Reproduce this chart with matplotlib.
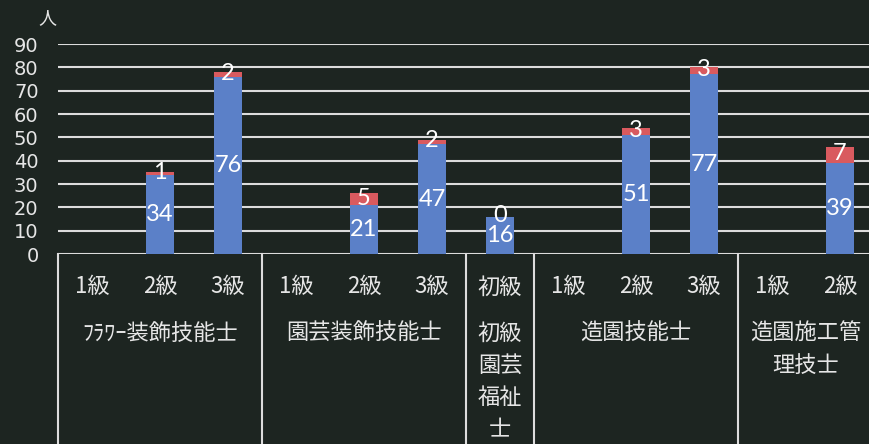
import matplotlib.pyplot as plt
import matplotlib.transforms as mtransforms

plt.rcParams['font.family'] = ['Noto Sans CJK JP', 'DejaVu Sans']

# one slot per grade, left to right
grades = ["1級", "2級", "3級", "1級", "2級", "3級", "初級", "1級", "2級", "3級", "1級", "2級"]
passed = [0, 34, 76, 0, 21, 47, 16, 0, 51, 77, 0, 39]
extra = [0, 1, 2, 0, 5, 2, 0, 0, 3, 3, 0, 7]
has_bar = [False, True, True, False, True, True, True, False, True, True, False, True]

groups = ["ﾌﾗﾜｰ装飾技能士", "園芸装飾技能士", "初級\n園芸\n福祉\n士", "造園技能士", "造園施工管\n理技士"]
group_slots = [(0, 2), (3, 5), (6, 6), (7, 9), (10, 11)]
yticks = [0, 10, 20, 30, 40, 50, 60, 70, 80, 90]

bg = "#1d2521"
line_col = "#dcdcdc"
txt_col = "#e6e6e6"
blue = "#5b80c8"
red = "#d95a5f"

fig = plt.figure(figsize=(8.69, 4.44), dpi=100, facecolor=bg)
ax = fig.add_axes([58 / 869, 1 - 254 / 444, (874 - 58) / 869, 210 / 444])
ax.set_facecolor(bg)

xs = list(range(len(grades)))
bx = [x for x, h in zip(xs, has_bar) if h]
bp = [p for p, h in zip(passed, has_bar) if h]
be = [e for e, h in zip(extra, has_bar) if h]
ax.bar(bx, bp, width=0.41, color=blue, zorder=3)
ax.bar(bx, be, bottom=bp, width=0.41, color=red, zorder=3)

for x, p, e in zip(bx, bp, be):
    ax.text(x, p / 2, str(p), ha="center", va="center", color="white",
            fontsize=17, family="Lato", zorder=4)
    ax.text(x, p + e / 2 + 0.5, str(e), ha="center", va="center", color="white",
            fontsize=17, family="Lato", zorder=4)

ax.set_xlim(-0.5, 11.5)
ax.set_ylim(0, 90)
ax.set_yticks(yticks)
ax.set_yticklabels([str(t) for t in yticks], color=txt_col, fontsize=14,
                   family="DejaVu Sans")
ax.tick_params(axis="y", length=0, pad=14)
ax.set_xticks([])
for t in yticks:
    ax.axhline(t, color=line_col, lw=1.5, zorder=2)
for s in ax.spines.values():
    s.set_visible(False)

# category table under the axis
tr = mtransforms.blended_transform_factory(ax.transData, ax.transAxes)
bottom = -254 / 210 * 1.2
for xd in [-0.5, 2.5, 5.5, 6.5, 9.5]:
    ax.plot([xd, xd], [0, bottom], color=line_col, lw=1.5, transform=tr, clip_on=False)

for x, g in zip(xs, grades):
    ax.text(x, -0.157, g, ha="center", va="center", color=txt_col, fontsize=16,
            transform=tr)
for (a, b), name in zip(group_slots, groups):
    ax.text((a + b) / 2, -0.325, name, ha="center", va="top", color=txt_col,
            fontsize=16, linespacing=1.5, transform=tr)

ax.text(-0.65, 1.125, "人", ha="center", va="center", color=txt_col, fontsize=13,
        transform=tr)

fig.savefig("out.png", dpi=100, facecolor=bg)
